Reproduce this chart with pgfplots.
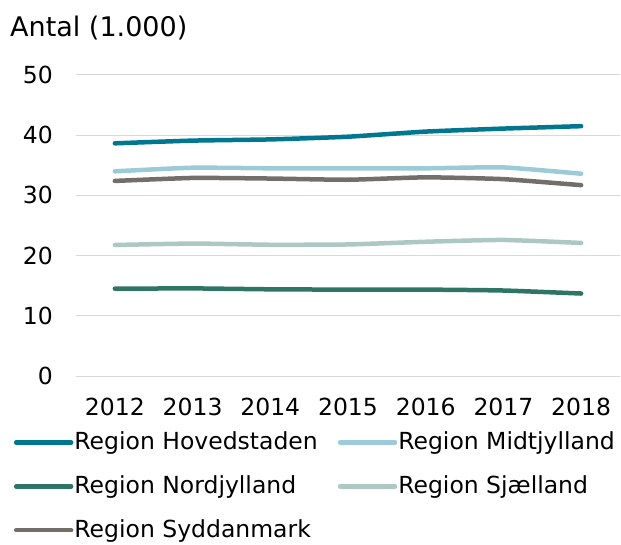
\documentclass[border=0pt]{standalone}
\usepackage{fontspec}
\setmainfont{DejaVu Sans}
\usepackage{pgfplots}
\pgfplotsset{compat=1.18}

\definecolor{hov}{HTML}{00778F}
\definecolor{mid}{HTML}{9CCAD6}
\definecolor{nord}{HTML}{2E7566}
\definecolor{sjae}{HTML}{ADC8C3}
\definecolor{syd}{HTML}{736E6A}
\definecolor{gridgray}{HTML}{D9D9D9}

\newcommand{\chartfont}{\fontsize{23.5}{28}\selectfont}

\begin{document}
\chartfont
\begin{tikzpicture}
\begin{axis}[
  scale only axis, width=544pt, height=301pt,
  font=\chartfont,
  xmin=-0.5, xmax=6.5, ymin=0, ymax=50,
  xtick={0,...,6},
  xticklabels={2012,2013,2014,2015,2016,2017,2018},
  ytick={0,10,...,50},
  axis line style={draw=none}, tick style={draw=none},
  ymajorgrids, grid style={color=gridgray, line width=1pt},
  /pgf/number format/assume math mode=true,
  yticklabel style={inner sep=0pt, anchor=east, xshift=-23pt},
  xticklabel style={inner sep=0pt, anchor=north, yshift=-22pt},
  every axis plot/.append style={line width=4.5pt, line cap=round, line join=round, smooth, tension=0.3},
  legend columns=2,
  legend style={draw=none, fill=none, at={(-0.12,-0.178)}, anchor=north west,
    nodes={inner sep=0pt, anchor=west}, row sep=22.5pt, font=\chartfont},
  /tikz/every odd column/.append style={column sep=1pt},
  /tikz/every even column/.append style={column sep=20pt},
  legend image code/.code={\draw[line width=4.5pt, line cap=round] (0pt,0pt) -- (55pt,0pt);},
]
\addplot[hov] coordinates {(0,38.65) (1,39.1) (2,39.3) (3,39.75) (4,40.6) (5,41.1) (6,41.5)};
\addlegendentry{Region Hovedstaden}
\addplot[mid] coordinates {(0,34.0) (1,34.6) (2,34.5) (3,34.5) (4,34.5) (5,34.65) (6,33.6)};
\addlegendentry{Region Midtjylland}
\addplot[nord] coordinates {(0,14.5) (1,14.55) (2,14.4) (3,14.35) (4,14.35) (5,14.2) (6,13.7)};
\addlegendentry{Region Nordjylland}
\addplot[sjae] coordinates {(0,21.76) (1,22.0) (2,21.8) (3,21.85) (4,22.3) (5,22.6) (6,22.1)};
\addlegendentry{Region Sjælland}
\addplot[syd] coordinates {(0,32.4) (1,32.9) (2,32.8) (3,32.6) (4,33.0) (5,32.7) (6,31.7)};
\addlegendentry{Region Syddanmark}
\end{axis}
\node[anchor=base west, inner sep=0pt, font=\fontsize{27}{32}\selectfont]
  at ([xshift=-66pt,yshift=38pt]current axis.north west) {Antal (1.000)};
\pgfresetboundingbox
\useasboundingbox ([xshift=-76pt,yshift=-168pt]current axis.south west)
  rectangle ([xshift=1pt,yshift=75pt]current axis.north east);
\end{tikzpicture}
\end{document}
